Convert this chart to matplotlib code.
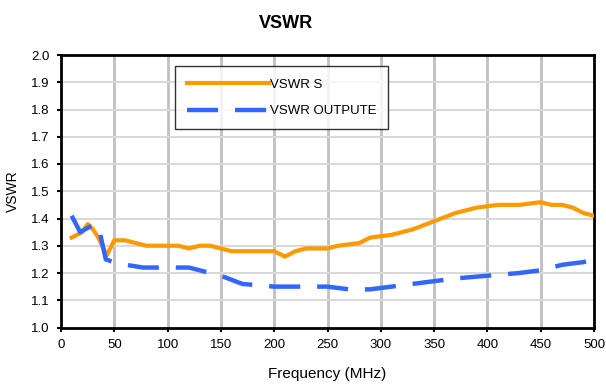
import matplotlib
matplotlib.use("Agg")
import matplotlib.pyplot as plt

freq_s = [10, 20, 25, 30, 35, 43, 50, 60, 70, 80, 100, 110, 120, 130, 140, 150, 160, 180, 200, 210, 220, 230, 250, 260, 280, 290, 310, 330, 350, 370, 390, 410, 430, 450, 460, 470, 480, 490, 500]
vswr_s = [1.33, 1.35, 1.38, 1.36, 1.33, 1.265, 1.32, 1.32, 1.31, 1.30, 1.30, 1.30, 1.29, 1.30, 1.30, 1.29, 1.28, 1.28, 1.28, 1.26, 1.28, 1.29, 1.29, 1.30, 1.31, 1.33, 1.34, 1.36, 1.39, 1.42, 1.44, 1.45, 1.45, 1.46, 1.45, 1.45, 1.44, 1.42, 1.41]

freq_o = [10, 18, 27, 35, 42, 53, 77, 100, 120, 140, 150, 170, 200, 250, 270, 290, 310, 330, 350, 370, 400, 430, 450, 470, 490, 500]
vswr_o = [1.41, 1.35, 1.37, 1.375, 1.25, 1.235, 1.22, 1.22, 1.22, 1.20, 1.19, 1.16, 1.15, 1.15, 1.14, 1.14, 1.15, 1.16, 1.17, 1.18, 1.19, 1.20, 1.21, 1.23, 1.24, 1.25]

x_ticks = [0, 50, 100, 150, 200, 250, 300, 350, 400, 450, 500]
y_ticks = [1.0, 1.1, 1.2, 1.3, 1.4, 1.5, 1.6, 1.7, 1.8, 1.9, 2.0]

plt.rcParams['font.family'] = ['Liberation Sans', 'DejaVu Sans']

fig = plt.figure(figsize=(6.06, 3.84), dpi=100)
ax = fig.add_axes([61/606, 1 - 327.5/384, 533/606, 272.5/384])

ax.plot(freq_s, vswr_s, color='#FF9900', lw=3, label='VSWR S', solid_joinstyle='round', zorder=3)
ax.plot(freq_o, vswr_o, color='#3366FF', lw=3.2, dashes=(7, 3.8), label='VSWR OUTPUTE', zorder=3)

ax.set_xlim(0, 500)
ax.set_ylim(1.0, 2.0)
ax.set_xticks(x_ticks)
ax.set_yticks(y_ticks)
ax.set_xticklabels([str(v) for v in x_ticks])
ax.set_yticklabels([f"{v:.1f}" for v in y_ticks])
ax.tick_params(labelsize=9.5, length=3, width=1.5, direction='out', pad=5)

for v in x_ticks[1:-1]:
    ax.axvline(v, color='#C0C0C0', lw=2, zorder=1)
for v in y_ticks[1:-1]:
    ax.axhline(v, color='#D9D9D9', lw=1.5, zorder=1)

for s in ax.spines.values():
    s.set_linewidth(2)
    s.set_color('black')

fig.text(286/606, 1 - 23/384, 'VSWR', fontsize=13, fontweight='bold', ha='center', va='center')
ax.set_xlabel('Frequency (MHz)', fontsize=11, labelpad=12)
ax.set_ylabel('VSWR', fontsize=10, labelpad=8)

leg = ax.legend(loc='upper left', bbox_to_anchor=(0.214, 0.958), fontsize=9.5,
                frameon=True, fancybox=False, edgecolor='black', handlelength=6.2,
                handletextpad=0.1, borderpad=0.9, labelspacing=1.1,
                borderaxespad=0)
leg.get_frame().set_linewidth(1)

fig.savefig('out.png', dpi=100)
